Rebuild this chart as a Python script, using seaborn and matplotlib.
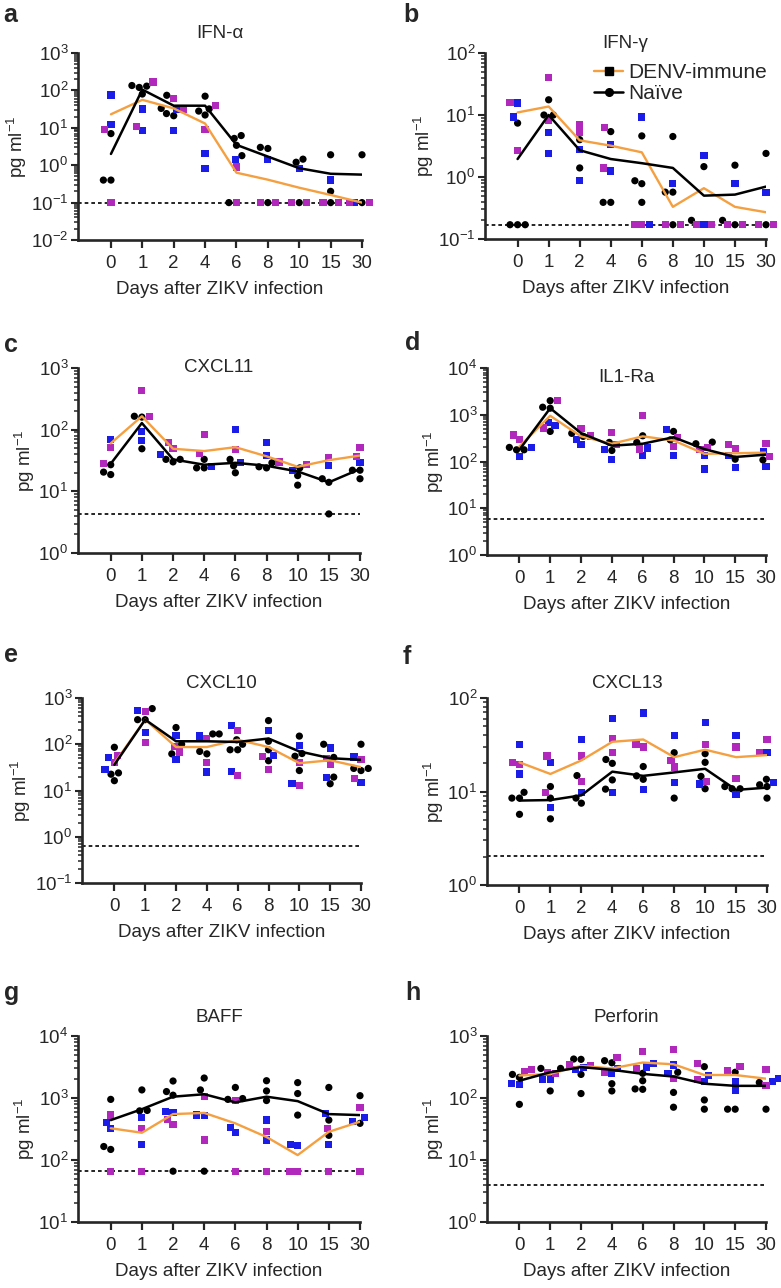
import numpy             as np
import pandas            as pd
import seaborn           as sns
import matplotlib.pyplot as plt

from matplotlib.markers import MarkerStyle
from matplotlib.lines   import Line2D
from matplotlib.ticker  import LogLocator, NullFormatter

DAYS = ['0', '1', '2', '4', '6', '8', '10', '15', '30']

# a - IFN-alpha
IFNA_NAIVE   = [[0.4, 0.4, 7], [135, 120, 130, 80], [74, 33, 21, 24], [70, 32, 22, 28],
                [6.2, 5.2, 3.4, 1.8, 0.1], [3.0, 2.8, 0.1], [1.45, 1.2, 0.1], [1.9, 0.2, 0.1], [1.9, 0.1]]
IFNA_BLUE    = [[12, 75], [32, 8.3], [32, 8.3], [2.1, 0.8], [1.4], [1.4], [0.8], [0.4], [0.1]]
IFNA_MAGENTA = [[9, 0.1], [167, 11], [62, 32], [40, 9], [0.9, 0.1], [0.1, 0.1], [0.1, 0.1], [0.1, 0.1], [0.1, 0.1]]
IFNA_NAIVE_LINE = [2, 105, 39, 39, 3.5, 1.7, 0.83, 0.59, 0.56]
IFNA_DENV_LINE  = [23, 56, 33, 13, 0.63, 0.41, 0.25, 0.16, 0.1]
IFNA_LOD = 0.1

# b - IFN-gamma
IFNG_NAIVE   = [[0.17, 0.17, 0.17, 7.4], [10, 17.6, 10], [4, 1.4], [5.4, 0.39, 0.39], [0.87, 4.6, 0.78, 0.39],
                [4.5, 0.57, 0.57, 0.17], [1.47, 0.2], [1.55, 0.2, 0.17], [2.4, 0.17]]
IFNG_BLUE    = [[15.6, 9.3], [5.2, 2.4], [2.8, 0.87], [3.3, 1.25], [9.3, 0.17], [0.78], [2.2, 0.17], [0.78], [0.57]]
IFNG_MAGENTA = [[16, 2.7], [40, 8.1], [5.3, 7], [6.3, 1.4], [0.17, 0.17], [0.17, 0.17], [0.17, 0.17],
                [0.17, 0.17], [0.17, 0.17]]
IFNG_NAIVE_LINE = [1.95, 10, 2.7, 1.95, 1.67, 1.4, 0.5, 0.52, 0.7]
IFNG_DENV_LINE  = [11, 13.7, 3.9, 3.2, 2.5, 0.33, 0.66, 0.33, 0.27]
IFNG_LOD = 0.17

# c - CXCL11
CXCL11_NAIVE   = [[27, 18.7, 20.5], [160, 165, 49], [33, 30, 33], [33, 24, 24], [33, 20, 26],
                  [29, 25, 24], [24, 12.6, 18], [16, 14, 4.3], [22, 16, 22]]
CXCL11_BLUE    = [[69], [94, 67], [39], [25], [100, 29], [62, 38], [22], [26], [29]]
CXCL11_MAGENTA = [[28, 52], [435, 165], [62, 50], [83, 41], [47], [30], [27], [35], [52, 37]]
CXCL11_NAIVE_LINE = [28, 128, 33, 27, 29, 26, 21, 14, 23]
CXCL11_DENV_LINE  = [60, 165, 49, 45, 52, 37, 25, 32, 38]
CXCL11_LOD = 4.3

# d - IL1-Ra
IL1RA_NAIVE   = [[200, 178, 178], [1450, 2000, 1380, 440], [345, 400], [172, 256], [355, 256],
                 [440, 290], [240, 260], [112], [108]]
IL1RA_BLUE    = [[128, 200], [690, 580], [228, 300], [112, 184], [194, 133], [490, 133], [133, 69],
                 [133, 74], [160, 78]]
IL1RA_MAGENTA = [[370, 300], [2000, 520], [350, 500], [425, 228], [970, 185], [325, 210], [200, 178],
                 [188, 228], [240, 128]]
IL1RA_NAIVE_LINE = [178, 1380, 405, 218, 240, 330, 184, 125, 140]
IL1RA_DENV_LINE  = [210, 950, 345, 240, 345, 282, 146, 150, 155]
IL1RA_LOD = 5.9

# e - CXCL10
CXCL10_NAIVE   = [[24, 86, 16.3, 22.5], [340, 590, 340], [230, 100, 62], [167, 167, 62, 70], [100, 76, 76, 125],
                  [325, 116, 76, 44], [150, 55, 27, 63], [100, 52, 14, 19.5], [100, 30, 27, 30]]
CXCL10_BLUE    = [[52, 28], [540, 180], [155, 46], [150, 25], [250, 26], [196, 57], [93, 14], [83, 19], [53, 15]]
CXCL10_MAGENTA = [[57, 41], [515, 110], [90, 68], [133, 41], [200, 21], [55, 28], [41, 13], [49, 36], [46, 18]]
CXCL10_NAIVE_LINE = [36, 340, 116, 116, 112, 133, 70, 50, 46]
CXCL10_DENV_LINE  = [39, 340, 87, 87, 125, 87, 39, 45, 32]
CXCL10_LOD = 0.64

# f - CXCL13
CXCL13_NAIVE   = [[8.5, 8.5, 5.7, 9.8], [8.5, 11.3, 5.1], [14.8, 7.5, 8.5], [22, 20, 10.6, 13.3], [14.7, 18.5, 13.5],
                  [26, 8.5], [20.5, 14.5, 10.7, 25.4], [10.7, 11.3, 10.7], [11.8, 11.3, 8.5, 13.5]]
CXCL13_BLUE    = [[32, 15.4], [20.5, 6.7], [36, 9.8], [60, 9.8], [69, 10.6], [40, 12.5], [55, 12], [40, 9.2], [26, 12.5]]
CXCL13_MAGENTA = [[20.5, 19.4], [24, 9.8], [24, 12.8], [37, 26], [31.6, 30], [21.5, 18.3], [31.6, 12.8],
                  [30, 13.9], [36, 26]]
CXCL13_NAIVE_LINE = [8, 8.1, 9.1, 16.3, 14.7, 16, 17.5, 10.4, 11]
CXCL13_DENV_LINE  = [20.5, 15.4, 21.5, 34, 36, 23.3, 28, 23.3, 24.5]
CXCL13_LOD = 2.05

# g - BAFF
BAFF_NAIVE   = [[950, 148, 165], [630, 1350, 620], [1270, 1880, 1110, 66], [1350, 2100, 66], [980, 1480, 950],
                [1300, 1900, 910], [1180, 1770, 530], [1480, 440, 250], [1090, 390]]
BAFF_BLUE    = [[405, 325], [480, 180], [600, 580], [530, 520], [335, 275], [440, 210], [180, 173], [560, 180], [480, 420]]
BAFF_MAGENTA = [[530, 66], [325, 66], [375, 455], [1070, 210], [910, 66], [285, 66], [66, 66], [325, 66], [700, 66]]
BAFF_NAIVE_LINE = [440, 660, 1050, 1150, 850, 1050, 890, 550, 530]
BAFF_DENV_LINE  = [325, 275, 550, 575, 390, 235, 120, 285, 415]
BAFF_LOD = 66

# h - Perforin
PERF_NAIVE   = [[215, 79, 240], [300, 300, 130], [425, 420, 118, 240], [400, 370, 130, 170], [250, 190, 138, 140],
                [123, 71, 260], [66, 93, 320], [66, 66, 260], [66, 178]]
PERF_BLUE    = [[163, 170], [203, 203], [285, 310], [295, 250], [355, 315], [340, 250], [228, 183], [135, 183], [204, 183]]
PERF_MAGENTA = [[290, 265], [260, 245], [340, 330], [450, 260], [560, 295], [610, 208], [355, 200], [320, 273], [290, 157]]
PERF_NAIVE_LINE = [190, 260, 315, 285, 245, 222, 170, 157, 157]
PERF_DENV_LINE  = [230, 245, 330, 300, 373, 350, 235, 235, 205]
PERF_LOD = 3.9

PANELS = [
    ('a', 'IFN-α',    IFNA_NAIVE,   IFNA_BLUE,   IFNA_MAGENTA,   IFNA_NAIVE_LINE,   IFNA_DENV_LINE,   IFNA_LOD,   (1e-2, 1e3)),
    ('b', 'IFN-γ',    IFNG_NAIVE,   IFNG_BLUE,   IFNG_MAGENTA,   IFNG_NAIVE_LINE,   IFNG_DENV_LINE,   IFNG_LOD,   (1e-1, 1e2)),
    ('c', 'CXCL11',   CXCL11_NAIVE, CXCL11_BLUE, CXCL11_MAGENTA, CXCL11_NAIVE_LINE, CXCL11_DENV_LINE, CXCL11_LOD, (1e0, 1e3)),
    ('d', 'IL1-Ra',   IL1RA_NAIVE,  IL1RA_BLUE,  IL1RA_MAGENTA,  IL1RA_NAIVE_LINE,  IL1RA_DENV_LINE,  IL1RA_LOD,  (1e0, 1e4)),
    ('e', 'CXCL10',   CXCL10_NAIVE, CXCL10_BLUE, CXCL10_MAGENTA, CXCL10_NAIVE_LINE, CXCL10_DENV_LINE, CXCL10_LOD, (1e-1, 1e3)),
    ('f', 'CXCL13',   CXCL13_NAIVE, CXCL13_BLUE, CXCL13_MAGENTA, CXCL13_NAIVE_LINE, CXCL13_DENV_LINE, CXCL13_LOD, (1e0, 1e2)),
    ('g', 'BAFF',     BAFF_NAIVE,   BAFF_BLUE,   BAFF_MAGENTA,   BAFF_NAIVE_LINE,   BAFF_DENV_LINE,   BAFF_LOD,   (1e1, 1e4)),
    ('h', 'Perforin', PERF_NAIVE,   PERF_BLUE,   PERF_MAGENTA,   PERF_NAIVE_LINE,   PERF_DENV_LINE,   PERF_LOD,   (1e0, 1e3)),
]

# layout in pixels: (left, top, right, bottom), title y, letter (x, y)
W, H = 781, 1288
BOXES  = [(78, 53, 362, 240), (485, 53, 766, 239), (78, 368, 360, 553), (487, 368, 766, 555),
          (82, 698, 361, 883), (487, 698, 767, 885), (78, 1036, 360, 1222), (487, 1036, 766, 1222)]
TITLE_Y  = [33, 43, 368, 378, 683, 683, 1018, 1018]
LETTERS  = [(3, 15), (403, 15), (4, 345), (405, 343), (4, 655), (403, 657), (4, 993), (405, 993)]

ORANGE  = '#f4a041'
BLUE    = '#1c1ce8'
MAGENTA = '#b128bd'
PALETTE = {'naive': 'black', 'blue': BLUE, 'magenta': MAGENTA}
FS = 13.5

sns.set_style('ticks')
plt.rcParams['font.family']      = ['Liberation Sans', 'DejaVu Sans']
plt.rcParams['mathtext.fontset'] = 'custom'
plt.rcParams['mathtext.rm']      = 'Liberation Sans'
plt.rcParams['mathtext.it']      = 'Liberation Sans:italic'
plt.rcParams['mathtext.default'] = 'regular'

circle = MarkerStyle('o')
square = MarkerStyle('s')
circle_path = circle.get_path().transformed(circle.get_transform())
square_path = square.get_path().transformed(square.get_transform())

fig = plt.figure(figsize=(W / 100, H / 100), dpi=100)

for i, (letter, name, naive, blue, magenta, naive_line, denv_line, lod, ylim) in enumerate(PANELS):
    l, t, r, b = BOXES[i]
    ax = fig.add_axes([l / W, 1 - b / H, (r - l) / W, (b - t) / H])

    rows = []
    for group, per_day in (('naive', naive), ('blue', blue), ('magenta', magenta)):
        for day, vals in zip(DAYS, per_day):
            for v in vals:
                rows.append((day, v, group))
    df = pd.DataFrame(rows, columns=['day', 'value', 'group'])

    ax.axhline(lod, color='black', ls=(0, (2.2, 1.8)), lw=1.2, zorder=1)

    sns.swarmplot(data=df, x='day', y='value', hue='group', order=DAYS,
                  hue_order=['naive', 'blue', 'magenta'], palette=PALETTE,
                  size=5.2, log_scale=True, legend=False, ax=ax,
                  clip_on=False, zorder=2, warn_thresh=1)

    # circles for naive animals, squares for DENV-immune
    for coll in ax.collections:
        fc = coll.get_facecolors()
        if len(fc) == 0:
            continue
        coll.set_paths([circle_path if c[:3].sum() < 0.05 else square_path for c in fc])

    sns.lineplot(x=np.arange(len(DAYS)), y=denv_line, color=ORANGE, lw=1.7, ax=ax, zorder=3)
    sns.lineplot(x=np.arange(len(DAYS)), y=naive_line, color='black', lw=1.8, ax=ax, zorder=3)

    ax.set_yscale('log')
    ax.set_ylim(*ylim)
    ax.yaxis.set_major_locator(LogLocator(base=10, numticks=20))
    ax.yaxis.set_minor_locator(LogLocator(base=10, subs=np.arange(2, 10), numticks=50))
    ax.yaxis.set_minor_formatter(NullFormatter())
    ax.set_xticks(range(len(DAYS)), DAYS)
    ax.set_xlim(-1.05, 8.0)

    sns.despine(ax=ax)
    for s in ('left', 'bottom'):
        ax.spines[s].set_linewidth(1.9)
    ax.tick_params(axis='x', length=6, width=1.6, pad=5, labelsize=FS)
    ax.tick_params(axis='y', which='major', length=5, width=1.5, pad=2, labelsize=FS)
    ax.tick_params(axis='y', which='minor', length=3, width=1.1)

    ax.set_xlabel('Days after ZIKV infection', fontsize=FS, labelpad=6)
    ax.set_ylabel(r'pg ml$^{-1}$', fontsize=FS, labelpad=1)

    fig.text((l + r) / 2 / W, 1 - TITLE_Y[i] / H, name, ha='center', va='center', fontsize=FS)
    lx, ly = LETTERS[i]
    fig.text(lx / W, 1 - ly / H, letter, ha='left', va='center', fontsize=18, fontweight='bold')

    if letter == 'b':
        handles = [Line2D([], [], color=ORANGE, lw=1.7, marker='s', markersize=5.5,
                          markerfacecolor='black', markeredgecolor='black'),
                   Line2D([], [], color='black', lw=1.8, marker='o', markersize=5.5)]
        ax.legend(handles, ['DENV-immune', 'Naïve'], loc='upper left', frameon=False,
                  bbox_to_anchor=(594 / W, 1 - 63 / H), bbox_transform=fig.transFigure,
                  fontsize=15, handlelength=1.4, handletextpad=0.25, labelspacing=0.1,
                  borderpad=0, borderaxespad=0)

fig.savefig('out.png', dpi=100)
